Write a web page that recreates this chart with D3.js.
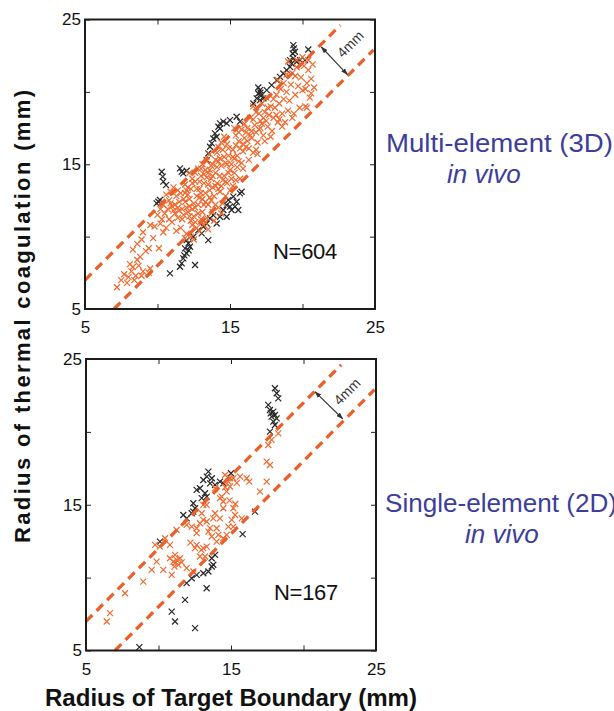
<!DOCTYPE html>
<html>
<head>
<meta charset="utf-8">
<script src="https://cdn.jsdelivr.net/npm/d3@7"></script>
<style>
  body { margin: 0; background: #fff; }
  svg { display: block; font-family: "Liberation Sans", Arial, Helvetica, sans-serif; }
</style>
</head>
<body>
<svg id="fig" width="614" height="711"></svg>
<script>
// ---- axis set-up -------------------------------------------------------
const axisDomain = [5, 25];
const tickValues = [5, 10, 15, 20, 25];
const tickLabels = [5, 15, 25];

// ±2 mm band around the identity line (y = x + offset), with its x extent
const bandLines = [
  { offset: 2,  x0: 5.0, x1: 22.6 },
  { offset: -2, x0: 7.0, x1: 24.9 }
];

// ---- multi-element (3D) in vivo ----------------------------------------
const multiBlack = [
  [10.29,14.48],[10.36,14.14],[10.40,13.80],[10.59,13.56],[10.17,12.53],[10.06,12.41],[9.94,12.30],
  [11.67,14.48],[11.55,14.71],[12.01,14.55],[11.78,14.37],
  [13.39,15.29],[13.50,15.75],[13.62,16.21],[13.85,16.78],[13.97,17.13],[14.20,17.59],[14.31,17.82],
  [14.54,17.94],[14.77,17.82],[15.00,18.05],[15.46,18.28],[14.31,17.47],[14.08,16.90],[13.74,16.44],[15.69,17.94],
  [16.61,19.20],[16.84,19.55],[16.95,19.89],[17.07,20.12],[17.18,19.78],[17.30,19.55],[17.07,19.43],
  [17.53,20.12],[17.87,20.47],[18.22,20.81],[18.45,21.04],[18.68,21.27],[18.91,21.50],[19.14,21.73],
  [19.25,21.96],[19.37,22.31],[19.32,22.65],[19.41,23.00],[19.37,23.23],[19.60,22.08],[19.83,22.19],
  [20.17,22.19],[20.40,22.93],[19.14,22.19],[19.48,22.77],
  [10.86,7.46],[11.67,8.15],[11.78,8.50],[12.01,8.84],[11.90,9.19],[12.13,9.53],[12.01,9.76],[12.47,9.99],
  [12.59,8.04],[12.82,10.45],[13.16,10.68],[13.39,10.91],[13.50,9.76],[13.62,11.26],[13.85,11.49],
  [14.08,10.91],[14.31,11.37],[14.54,11.84],[14.77,12.18],[14.89,12.53],[15.11,11.84],[15.23,12.76],
  [15.46,12.41],[15.57,11.84],[15.69,12.99],[15.80,13.10],[14.77,11.37],[11.55,7.92],[12.24,9.30],
  [13.05,10.22],[15.00,12.07],[15.34,12.07],[16.95,20.30],[17.10,19.95],[11.85,8.70],[12.15,9.05]
];

const multiOrange = [
  [7.2,6.5],[7.5,7.0],[7.9,6.8],[8.0,7.2],[8.2,7.6],[8.3,7.9],[8.7,8.0],[8.6,8.4],[9.0,7.6],[9.4,7.5],
  [9.5,7.8],[8.3,9.1],[8.6,9.5],[8.9,9.8],[9.0,10.3],[9.4,9.2],[10.1,9.2],[9.8,10.7],[9.5,10.8],[10.2,10.9],
  [7.7,7.4],[8.1,8.1],[8.5,7.3],[8.8,8.6],[9.2,9.0],
  [10.3,11.2],[10.5,11.6],[10.7,11.9],[10.4,12.2],[10.8,12.5],[11.0,12.1],[11.2,11.6],[11.0,11.0],[10.6,10.6],
  [11.3,12.8],[11.5,12.4],[11.4,11.3],[10.9,13.1],[11.1,13.4],[11.6,13.0],[11.7,11.9],[11.8,12.6],[11.3,10.4],
  [11.6,10.6],[10.2,11.9],[10.0,11.5],
  [12.0,12.0],[12.1,12.9],[12.3,13.3],[12.2,11.4],[12.4,10.8],[12.5,12.3],[12.6,13.8],[12.7,12.8],[12.8,11.6],
  [12.9,10.4],[12.0,10.2],[12.3,10.0],[12.6,11.0],[12.9,13.3],[13.0,14.2],[12.4,14.0],[11.9,13.6],[12.2,14.4],
  [12.8,14.7],[12.5,9.8],[11.9,9.9],[12.1,11.7],[12.7,10.6],[12.6,12.0],
  [13.1,12.6],[13.2,13.7],[13.3,14.6],[13.4,11.3],[13.5,12.2],[13.6,13.2],[13.7,14.0],[13.8,15.0],[13.9,12.8],
  [13.2,10.8],[13.5,10.5],[13.8,11.7],[13.4,15.2],[13.6,15.7],[14.0,14.4],[14.0,13.5],[13.1,11.7],[13.3,13.0],
  [13.7,12.5],[13.9,11.1],[13.6,14.6],
  [14.1,15.8],[14.2,16.2],[14.3,13.1],[14.4,14.9],[14.5,12.3],[14.6,15.5],[14.7,13.8],[14.8,16.4],[14.9,14.4],
  [14.2,12.0],[14.4,11.6],[14.6,16.9],[14.9,15.6],[15.0,13.2],[14.3,14.2],[14.7,12.8],[14.5,16.0],[14.1,13.7],
  [15.1,15.0],[15.2,16.0],[15.3,14.4],[15.4,17.0],[15.5,15.6],[15.6,16.6],[15.7,14.0],[15.8,17.4],[15.9,15.9],
  [16.0,16.8],[15.2,13.5],[15.5,14.8],[15.8,15.1],[16.0,17.8],[15.3,17.5],[15.9,14.7],
  [16.1,16.2],[16.2,17.5],[16.4,18.2],[16.5,16.8],[16.6,15.8],[16.7,17.7],[16.8,18.6],[16.9,16.5],[17.0,17.4],
  [16.3,15.3],[16.6,19.0],[17.0,18.5],[16.4,17.0],[16.9,15.7],
  [17.1,18.0],[17.2,19.2],[17.3,17.0],[17.4,18.6],[17.5,19.6],[17.6,17.6],[17.7,18.4],[17.8,19.0],[17.9,17.3],
  [18.0,18.2],[17.4,16.6],[17.8,16.9],[18.0,19.5],[17.2,17.8],
  [18.1,18.9],[18.2,19.8],[18.3,17.9],[18.4,19.2],[18.5,20.2],[18.6,18.5],[18.7,19.5],[18.8,17.9],[18.9,20.0],
  [19.0,18.7],[18.3,20.8],[18.9,21.2],[18.6,17.6],
  [19.1,19.4],[19.2,20.5],[19.3,21.3],[19.4,18.5],[19.5,19.8],[19.6,21.7],[19.7,20.4],[19.8,18.9],[19.9,21.0],
  [20.0,20.1],[20.1,21.8],[20.2,19.0],[20.3,20.6],[20.4,21.5],[20.5,19.6],[20.6,20.9],[20.7,21.9],[20.6,19.9],
  [19.6,22.2],[20.0,22.4],[20.4,22.2],[19.0,22.1],[20.8,20.3],[19.3,18.2],[20.3,18.9],
  [11.2,12.2],[11.5,11.8],[11.9,12.4],[12.2,12.6],[12.4,11.9],[12.8,12.2],[13.0,13.0],[13.2,12.2],[13.5,13.6],
  [13.8,13.4],[14.1,14.8],[14.3,15.4],[14.6,14.2],[14.8,15.0],[15.0,14.6],[12.1,13.4],[12.9,13.8],[13.4,14.1],
  [13.7,14.9],[14.2,15.2],[11.7,11.2],[12.3,11.1],[13.0,11.2],[13.3,12.4],[11.4,12.0],[10.8,11.2],[11.9,13.0],
  [12.6,14.4],[13.1,15.0],[14.4,13.5],[14.8,13.7],[15.3,15.4],[15.6,15.2],[15.4,16.3],[16.2,16.6],[16.5,17.3],
  [16.8,17.2],[17.3,18.2],[17.6,18.9],[18.2,18.4],
  [10.6,12.9],[10.9,12.3],[11.1,11.8],[11.4,13.2],[11.8,11.5],[12.0,13.2],[12.2,12.1],[12.4,13.7],[12.5,11.4],
  [12.7,13.3],[12.9,12.7],[13.0,14.7],[13.2,14.3],[13.3,11.0],[13.5,14.4],[13.6,12.7],[13.8,14.2],[14.0,12.2],
  [14.0,15.3],[14.2,13.3],[14.4,16.5],[14.5,13.9],[14.7,15.1],[14.9,16.1],[15.1,14.0],[15.2,15.5],[15.4,13.9],
  [15.6,17.2],[15.7,16.1],[15.9,16.4],[16.1,17.2],[16.3,16.1],[16.6,18.1],[16.8,16.0],[17.1,17.5],[17.5,18.0],
  [18.4,18.1],[18.7,20.6],[19.5,21.1],[20.2,20.2],[8.4,7.0],[8.9,7.3],[9.7,9.9],[10.4,10.3]
];

// ---- single-element (2D) in vivo ---------------------------------------
const singleBlack = [
  [18.03,22.99],[18.15,22.65],[18.26,22.30],[17.57,21.85],[17.69,21.50],[17.92,21.39],[18.03,21.16],
  [17.80,21.05],[18.15,20.93],[17.92,20.70],[18.03,20.47],[17.69,20.02],[17.74,21.27],
  [13.44,17.27],[13.33,16.93],[13.09,16.70],[13.68,16.82],[13.56,16.47],[13.90,16.36],[14.24,16.59],
  [14.47,16.47],[15.00,17.16],[12.86,16.13],[12.63,16.02],[13.21,15.79],[12.98,15.45],[12.40,15.10],
  [12.52,14.76],[12.29,14.42],[11.71,14.30],[11.94,14.07],[12.40,14.53],[13.33,15.56],[16.66,14.53],
  [15.80,12.98],
  [10.10,12.47],[13.67,11.33],[13.90,11.56],[13.67,10.76],[13.44,10.42],[13.09,10.30],[12.63,10.19],
  [12.29,9.96],[11.94,9.62],[13.32,9.27],[11.83,8.47],[10.91,7.67],[11.14,6.99],[12.52,6.53],
  [8.68,5.23],[13.78,10.88]
];

const singleOrange = [
  [6.43,6.99],[6.66,7.56],[7.69,8.93],[8.95,9.73],[9.53,10.53],[9.87,11.10],[10.33,10.53],[10.79,11.33],
  [10.91,10.19],[11.02,11.10],[11.14,10.99],[11.25,11.22],[11.37,10.87],[11.48,11.33],[11.14,11.56],
  [11.94,10.65],[12.40,10.42],[12.52,12.02],[12.63,12.25],[13.09,12.02],[13.21,11.45],[12.86,11.45],
  [10.79,12.25],[10.45,12.70],[11.25,13.27],[11.94,13.62],[12.29,13.50],[12.63,13.39],[12.86,13.73],
  [13.09,13.96],[13.32,13.85],[12.63,13.05],[13.78,14.07],[13.90,14.42],[14.01,13.39],[14.13,12.93],
  [14.47,12.70],[14.70,12.93],[14.01,12.47],[13.67,12.82],[14.47,15.22],[14.36,15.56],[14.70,15.90],
  [14.93,16.25],[14.82,16.59],[15.16,16.82],[15.62,16.93],[16.08,16.82],[16.26,16.59],[15.16,14.76],
  [15.28,14.30],[15.05,13.96],[15.16,13.50],[14.82,13.50],[14.24,15.45],[14.47,14.76],[13.32,14.99],
  [13.09,14.99],[12.98,14.42],[14.24,14.07],[17.00,15.90],[17.46,16.59],[17.46,17.96],[17.69,17.73],
  [17.57,19.10],[17.80,19.45],[18.26,19.90],[15.74,14.07],[13.90,16.13],[14.59,17.04],[14.93,16.82],
  [9.76,12.25],[10.10,12.13],[13.32,12.13],[13.44,13.16],[11.60,11.05],[11.10,10.75],[12.20,12.40],
  [14.90,15.30],[15.30,15.05],[12.95,11.90],[13.55,13.40],[14.60,16.20],[15.40,16.50]
];

// ---- layout ------------------------------------------------------------
const orangeColor = "#ef692e";
const bandColor = "#e9602a";
const blackColor = "#262626";
const noteBlue = "#3d3d9c";

const panels = [
  { left: 85, top: 19.5, width: 290, height: 289.5,
    black: multiBlack, orange: multiOrange, count: "N=604",
    arrow: [[21.3, 23.1], [23.1, 21.2]], noteAt: [23.3, 23.3],
    title: ["Multi-element (3D)", "in vivo"], titleX: 386, titleLen: 227, vivoX: 447, titleY: 152 },
  { left: 86, top: 359, width: 290, height: 291.5,
    black: singleBlack, orange: singleOrange, count: "N=167",
    arrow: [[20.8, 22.75], [22.7, 20.9]], noteAt: [23.0, 22.76],
    title: ["Single-element (2D)", "in vivo"], titleX: 385, titleLen: 232, vivoX: 465, titleY: 512 }
];

const svg = d3.select("#fig");

svg.append("defs").append("marker")
  .attr("id", "tip")
  .attr("viewBox", "0 0 10 10")
  .attr("refX", 9).attr("refY", 5)
  .attr("markerWidth", 7).attr("markerHeight", 7)
  .attr("orient", "auto-start-reverse")
  .attr("markerUnits", "userSpaceOnUse")
  .append("path").attr("d", "M0,1.5L10,5L0,8.5Z").attr("fill", "#333");

const cross = "M-3,-3L3,3M-3,3L3,-3";

panels.forEach(p => {
  const x = d3.scaleLinear().domain(axisDomain).range([0, p.width]);
  const y = d3.scaleLinear().domain(axisDomain).range([p.height, 0]);
  const g = svg.append("g").attr("transform", `translate(${p.left},${p.top})`);

  const fmt = v => tickLabels.includes(v) ? String(v) : "";

  // inward ticks on all four sides
  g.append("g").attr("transform", `translate(0,${p.height})`)
    .call(d3.axisBottom(x).tickValues(tickValues).tickSize(-5).tickPadding(12).tickFormat(fmt));
  g.append("g")
    .call(d3.axisLeft(y).tickValues(tickValues).tickSize(-5).tickPadding(4).tickFormat(fmt));
  g.append("g").call(d3.axisTop(x).tickValues(tickValues).tickSize(-5).tickFormat(""));
  g.append("g").attr("transform", `translate(${p.width},0)`)
    .call(d3.axisRight(y).tickValues(tickValues).tickSize(-5).tickFormat(""));

  g.selectAll(".domain").remove();
  g.selectAll(".tick line").attr("stroke", "#222").attr("stroke-width", 1);
  g.selectAll(".tick text").attr("font-size", 17).attr("fill", "#111")
    .attr("font-family", "'Liberation Sans', Arial, sans-serif");

  // scatter: black then orange crosses
  g.append("g").selectAll("path").data(p.black).join("path")
    .attr("d", cross)
    .attr("transform", d => `translate(${x(d[0])},${y(d[1])})`)
    .attr("fill", "none").attr("stroke", blackColor).attr("stroke-width", 1.2);
  g.append("g").selectAll("path").data(p.orange).join("path")
    .attr("d", cross)
    .attr("transform", d => `translate(${x(d[0])},${y(d[1])})`)
    .attr("fill", "none").attr("stroke", orangeColor).attr("stroke-width", 1.2);

  // dashed band lines
  g.append("g").selectAll("line").data(bandLines).join("line")
    .attr("x1", d => x(d.x0)).attr("y1", d => y(d.x0 + d.offset))
    .attr("x2", d => x(d.x1)).attr("y2", d => y(d.x1 + d.offset))
    .attr("stroke", bandColor).attr("stroke-width", 3.3)
    .attr("stroke-dasharray", "9,6");

  // band width annotation
  g.append("line")
    .attr("x1", x(p.arrow[0][0])).attr("y1", y(p.arrow[0][1]))
    .attr("x2", x(p.arrow[1][0])).attr("y2", y(p.arrow[1][1]))
    .attr("stroke", "#333").attr("stroke-width", 1.1)
    .attr("marker-start", "url(#tip)").attr("marker-end", "url(#tip)");
  g.append("text")
    .attr("transform", `translate(${x(p.noteAt[0])},${y(p.noteAt[1])}) rotate(-45)`)
    .attr("text-anchor", "middle").attr("dy", "0.35em")
    .attr("font-size", 14).attr("fill", "#333")
    .text("4mm");

  // frame
  g.append("rect").attr("width", p.width).attr("height", p.height)
    .attr("fill", "none").attr("stroke", "#1c1c1c").attr("stroke-width", 2);

  // sample count
  g.append("text").attr("x", 188).attr("y", p.height - 50.5)
    .attr("font-size", 22).attr("fill", "#111").attr("letter-spacing", -0.3)
    .text(p.count);

  // condition label on the right (the closing bracket runs to the page edge)
  svg.append("text").attr("x", p.titleX).attr("y", p.titleY)
    .attr("font-size", 26).attr("fill", noteBlue)
    .attr("textLength", p.titleLen).attr("lengthAdjust", "spacingAndGlyphs")
    .text(p.title[0]);
  svg.append("text").attr("x", p.vivoX).attr("y", p.titleY + 31)
    .attr("font-size", 26).attr("fill", noteBlue)
    .attr("font-style", "italic")
    .text(p.title[1]);
});

// shared axis titles
svg.append("text")
  .attr("transform", "translate(30,316.5) rotate(-90)")
  .attr("text-anchor", "middle")
  .attr("font-size", 22).attr("font-weight", "bold").attr("fill", "#111")
  .attr("textLength", 453).attr("lengthAdjust", "spacing")
  .text("Radius of thermal coagulation (mm)");

svg.append("text")
  .attr("x", 231).attr("y", 706)
  .attr("text-anchor", "middle")
  .attr("font-size", 23).attr("font-weight", "bold").attr("fill", "#111")
  .attr("textLength", 372).attr("lengthAdjust", "spacingAndGlyphs")
  .text("Radius of Target Boundary (mm)");
</script>
</body>
</html>
